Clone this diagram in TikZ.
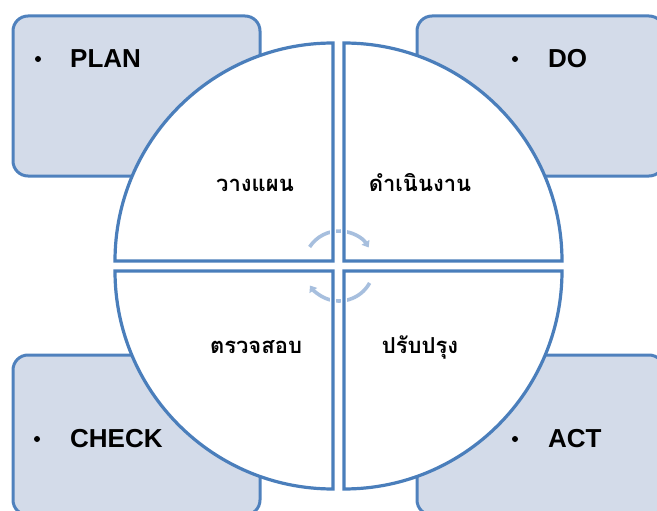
\documentclass[tikz,border=0pt]{standalone}
\usepackage{fontspec}
\setmainfont{Liberation Sans}
\newfontfamily\thaifont[Script=Thai]{Loma}
\usetikzlibrary{arrows.meta}
\definecolor{qline}{RGB}{74,126,187}
\definecolor{boxfill}{RGB}{211,219,233}
\definecolor{boxline}{RGB}{79,129,189}
\definecolor{arrowc}{RGB}{167,191,222}
\tikzset{
  cornerbox/.style={draw=boxline, fill=boxfill, line width=3pt, rounded corners=15pt,
    minimum width=247pt, minimum height=160pt, inner sep=0pt, outer sep=0pt, anchor=north west},
  quadfill/.style={fill=white},
  quadline/.style={draw=qline, line width=3.2pt},
  halo/.style={draw=white, line width=6.5pt},
  engl/.style={font=\fontsize{26}{30}\selectfont\bfseries, anchor=base west, inner sep=0pt},
  thai/.style={font=\thaifont\fontsize{22}{26}\selectfont\bfseries, anchor=base, inner sep=0pt},
  dotb/.style={circle, fill=black, inner sep=0pt, minimum size=6pt},
  cyc/.style={draw=arrowc, line width=3.6pt, -{Triangle[width=9pt,length=6pt]}}
}
\begin{document}
\begin{tikzpicture}[x=1pt,y=-1pt]
\useasboundingbox (0,0) rectangle (657,511);
\clip (0,0) rectangle (657,511);
% corner boxes
\node[cornerbox] (planbox) at (13,16) {};
\node[cornerbox] (dobox) at (417,16) {};
\node[cornerbox] (checkbox) at (13,355) {};
\node[cornerbox] (actbox) at (417,355) {};
% box labels
\node[dotb] (plandot) at (38,59) {};
\node[engl] (plan) at (70,68) {PLAN};
\node[dotb] (dodot) at (515,59) {};
\node[engl] (do) at (548,68) {DO};
\node[dotb] (checkdot) at (37,439) {};
\node[engl] (check) at (70,447) {CHECK};
\node[dotb] (actdot) at (515,439) {};
\node[engl] (act) at (548,447) {ACT};
% quadrant shapes
\def\qa{(333,261) -- ++(-218,0) arc[start angle=180, end angle=270, radius=218] -- cycle}
\def\qb{(344,261) -- ++(0,-218) arc[start angle=270, end angle=360, radius=218] -- cycle}
\def\qc{(344,271) -- ++(218,0) arc[start angle=0, end angle=90, radius=218] -- cycle}
\def\qd{(333,271) -- ++(0,218) arc[start angle=90, end angle=180, radius=218] -- cycle}
\path[quadfill] \qa; \path[quadfill] \qb; \path[quadfill] \qc; \path[quadfill] \qd;
% center cycle arrows
\coordinate (cc) at (339,266);
\draw[cyc] (cc) ++(213:35) arc[start angle=213, end angle=328, radius=35];
\draw[cyc] (cc) ++(29:35) arc[start angle=29, end angle=146, radius=35];
% white halo around the inner edges where the arrows cross them
\foreach \xa in {333,344} {
  \path[halo] (\xa,222) -- (\xa,310);
}
\foreach \ya in {261,271} {
  \path[halo] (295,\ya) -- (383,\ya);
}
% quadrant outlines
\path[quadline] \qa; \path[quadline] \qb; \path[quadline] \qc; \path[quadline] \qd;
% quadrant texts
\node[thai] (plantxt) at (255,192) {วางแผน};
\node[thai] (dotxt) at (420,192) {ดำเนินงาน};
\node[thai] (checktxt) at (256,353) {ตรวจสอบ};
\node[thai] (acttxt) at (420,353) {ปรับปรุง};
\end{tikzpicture}
\end{document}
